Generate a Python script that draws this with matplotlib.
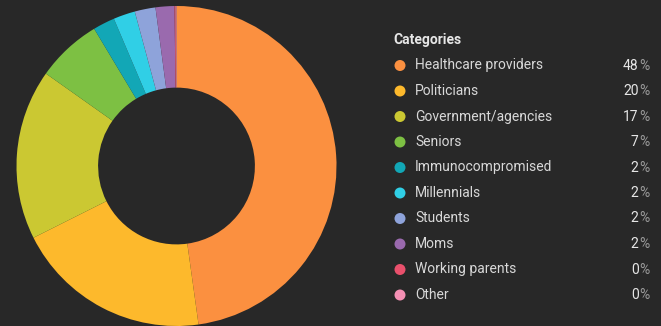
import matplotlib
matplotlib.use("Agg")
import matplotlib.pyplot as plt

categories = ["Healthcare providers", "Politicians", "Government/agencies", "Seniors",
              "Immunocompromised", "Millennials", "Students", "Moms",
              "Working parents", "Other"]
shares = [47.8, 19.8, 17.2, 6.6, 2.2, 2.2, 2.1, 1.9, 0.1, 0.1]
pct_labels = ["48", "20", "17", "7", "2", "2", "2", "2", "0", "0"]
colors = ["#fb9040", "#fdb92c", "#cbc832", "#7dc043", "#12a7b6", "#30cfe6",
          "#8ea3da", "#9a6aae", "#e9506c", "#f590b4"]

bg = "#282828"
W, H = 661, 326

fig = plt.figure(figsize=(W / 100, H / 100), dpi=100, facecolor=bg)

# donut
ax = fig.add_axes([16.5 / W, 0 / H, 320 / W, 320 / H])
ax.set_facecolor(bg)
ax.pie(shares, colors=colors, startangle=90, counterclock=False, radius=1,
       wedgeprops=dict(width=0.51, linewidth=0))
ax.set_xlim(-1, 1)
ax.set_ylim(-1, 1)
ax.set_aspect("equal")
ax.axis("off")

font = "Roboto"
fs = 10

def fx(x):
    return x / W

def fy(y):
    return 1 - y / H

fig.text(fx(393), fy(40), "Categories", color="#e6e6e6", fontsize=fs,
         fontweight="bold", family=font, va="center", ha="left")

row0, step = 65.5, 25.5
for i, (name, col, p) in enumerate(zip(categories, colors, pct_labels)):
    y = row0 + i * step
    fig.patches.append(matplotlib.patches.Ellipse((fx(400), fy(y)), 11 / W, 11 / H,
                                                  transform=fig.transFigure,
                                                  facecolor=col, edgecolor="none"))
    fig.text(fx(415), fy(y), name, color="#d8d8d8", fontsize=fs, family=font,
             va="center", ha="left")
    fig.text(fx(649), fy(y), "%", color="#9a9a9a", fontsize=fs, family=font,
             va="center", ha="right")
    fig.text(fx(638.5), fy(y), p, color="#e6e6e6", fontsize=fs, family=font,
             va="center", ha="right")

fig.savefig("out.png", dpi=100, facecolor=bg)
